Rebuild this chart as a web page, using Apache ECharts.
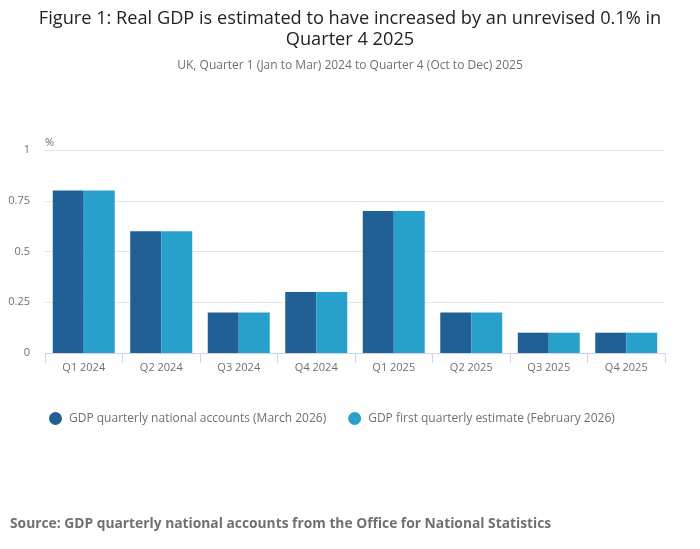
<!DOCTYPE html>
<html>
<head>
<meta charset="utf-8">
<script src="https://cdn.jsdelivr.net/npm/echarts@6/dist/echarts.min.js"></script>
<style>
  html, body { margin: 0; padding: 0; background: #fff; }
  #chart { width: 700px; height: 549px; }
</style>
</head>
<body>
<div id="chart"></div>
<script>
const categories = ['Q1 2024', 'Q2 2024', 'Q3 2024', 'Q4 2024', 'Q1 2025', 'Q2 2025', 'Q3 2025', 'Q4 2025'];
const quarterlyAccounts = [0.8, 0.6, 0.2, 0.3, 0.7, 0.2, 0.1, 0.1];
const firstEstimate = [0.8, 0.6, 0.2, 0.3, 0.7, 0.2, 0.1, 0.1];
const yTicks = [0, 0.25, 0.5, 0.75, 1];

const font = '"Open Sans", sans-serif';
const chart = echarts.init(document.getElementById('chart'));

chart.setOption({
    animation: false,
    textStyle: { fontFamily: font },
    title: [
        {
            text: 'Figure 1: Real GDP is estimated to have increased by an unrevised 0.1% in\nQuarter 4 2025',
            left: 345,
            top: 3,
            textAlign: 'center',
            textStyle: { fontFamily: font, fontSize: 18.2, fontWeight: 'normal', color: '#222222', lineHeight: 21 }
        },
        {
            text: 'UK, Quarter 1 (Jan to Mar) 2024 to Quarter 4 (Oct to Dec) 2025',
            left: 'center',
            top: 55,
            textStyle: { fontFamily: font, fontSize: 12, fontWeight: 'normal', color: '#707071' }
        },
        {
            text: 'Source: GDP quarterly national accounts from the Office for National Statistics',
            left: 5,
            top: 512,
            textStyle: { fontFamily: font, fontSize: 13.8, fontWeight: 'bold', color: '#707071' }
        }
    ],
    legend: {
        left: 44,
        top: 407,
        icon: 'circle',
        itemWidth: 13,
        itemHeight: 13,
        itemGap: 22,
        textStyle: { fontFamily: font, fontSize: 12, color: '#707071', padding: [0, 0, 0, 2] }
    },
    grid: { left: 45, right: 35, top: 150, bottom: 196 },
    xAxis: {
        type: 'category',
        data: categories,
        axisLine: { lineStyle: { color: '#ccd6eb' } },
        axisTick: { show: true, length: 10, lineStyle: { color: '#ccd6eb' } },
        axisLabel: { fontFamily: font, fontSize: 11, color: '#707071', margin: 9 }
    },
    yAxis: {
        type: 'value',
        min: yTicks[0],
        max: yTicks[yTicks.length - 1],
        interval: 0.25,
        name: '%',
        nameLocation: 'end',
        nameGap: 2,
        nameTextStyle: { fontFamily: font, fontSize: 11, color: '#707071', align: 'left' },
        axisLine: { show: false },
        axisTick: { show: false },
        axisLabel: { fontFamily: font, fontSize: 11, color: '#707071', margin: 15 },
        splitLine: { lineStyle: { color: '#e6e6e6' } }
    },
    series: [
        {
            name: 'GDP quarterly national accounts (March 2026)',
            type: 'bar',
            data: quarterlyAccounts,
            barGap: '0%',
            barCategoryGap: '20%',
            itemStyle: { color: '#206095' }
        },
        {
            name: 'GDP first quarterly estimate (February 2026)',
            type: 'bar',
            data: firstEstimate,
            itemStyle: { color: '#27a0cc' }
        }
    ]
});
</script>
</body>
</html>
